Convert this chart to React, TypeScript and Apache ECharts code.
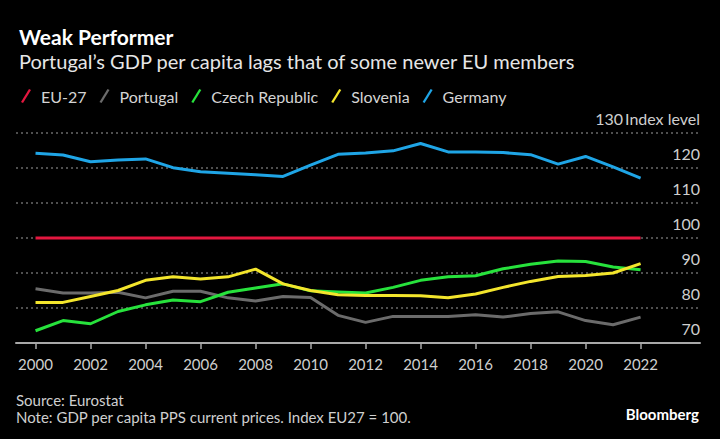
import React, { useEffect, useRef } from "react";
import * as echarts from "echarts";

const years = [2000, 2001, 2002, 2003, 2004, 2005, 2006, 2007, 2008, 2009, 2010, 2011, 2012, 2013, 2014, 2015, 2016, 2017, 2018, 2019, 2020, 2021, 2022];
const eu27 = [100, 100, 100, 100, 100, 100, 100, 100, 100, 100, 100, 100, 100, 100, 100, 100, 100, 100, 100, 100, 100, 100, 100];
const portugal = [85.5, 84.3, 84.3, 84.5, 82.9, 84.8, 84.8, 82.9, 82.0, 83.3, 83.0, 77.9, 75.9, 77.6, 77.6, 77.6, 78.1, 77.4, 78.4, 78.9, 76.4, 75.2, 77.4];
const czech = [73.5, 76.4, 75.5, 79.0, 80.9, 82.3, 81.8, 84.5, 85.7, 86.9, 84.9, 84.6, 84.3, 85.9, 87.9, 88.9, 89.2, 91.2, 92.5, 93.4, 93.3, 91.7, 90.9];
const slovenia = [81.6, 81.6, 83.3, 85.0, 87.9, 88.9, 88.3, 88.9, 91.1, 86.9, 85.0, 83.8, 83.6, 83.6, 83.5, 82.9, 84.0, 85.9, 87.6, 89.0, 89.3, 90.0, 92.7];
const germany = [124.2, 123.7, 121.8, 122.3, 122.6, 120.1, 118.9, 118.5, 118.1, 117.6, 120.8, 123.9, 124.3, 124.9, 127.0, 124.6, 124.6, 124.4, 123.8, 121.1, 123.3, 120.3, 117.1];
const xTickValues = [2000, 2002, 2004, 2006, 2008, 2010, 2012, 2014, 2016, 2018, 2020, 2022];

const seriesNames = ["EU-27", "Portugal", "Czech Republic", "Slovenia", "Germany"];
const seriesData = [eu27, portugal, czech, slovenia, germany];
const seriesColors = ["#e3173f", "#6b6b6b", "#27e23c", "#f3e52c", "#1fa5e6"];

const FONT = "Lato, 'Noto Sans', sans-serif";

export default function App() {
  const ref = useRef<HTMLDivElement>(null);
  useEffect(() => {
    if (!ref.current) return;
    const chart = echarts.init(ref.current, null, { renderer: "svg" });
    const icon = "path://M8,0 L10,1 L2,14 L0,13 Z";
    chart.setOption({
      animation: false,
      backgroundColor: "#000",
      textStyle: { fontFamily: FONT },
      title: {
        text: "Weak Performer",
        subtext: "Portugal\u2019s GDP per capita lags that of some newer EU members",
        left: 14,
        top: 21,
        itemGap: 4,
        textStyle: { color: "#fff", fontSize: 21, fontWeight: "bold", fontFamily: FONT },
        subtextStyle: { color: "#e6e6e6", fontSize: 20, fontFamily: FONT },
      },
      legend: {
        left: 16,
        top: 83,
        itemWidth: 10,
        itemHeight: 14,
        itemGap: 13,
        icon,
        textStyle: { color: "#d4d4d4", fontSize: 16, fontFamily: FONT, padding: [0, 0, 0, 5] },
        data: seriesNames.map((n) => ({ name: n, icon })),
      },
      grid: { left: 16, right: 20, top: 133, bottom: 96, containLabel: false },
      xAxis: {
        type: "value",
        min: 1999.29,
        max: 2024.16,
        axisLine: { show: true, lineStyle: { color: "#a8a8a8", width: 2 } },
        axisTick: { show: true, length: 6, lineStyle: { color: "#a8a8a8", width: 1.5 }, customValues: xTickValues },
        axisLabel: {
          color: "#cfcfcf",
          fontSize: 15,
          margin: 13,
          customValues: xTickValues,
          formatter: (v: number) => String(v),
        },
        splitLine: { show: false },
      },
      yAxis: {
        type: "value",
        position: "right",
        min: 70,
        max: 130,
        interval: 10,
        axisLine: { show: false },
        axisTick: { show: false },
        axisLabel: {
          inside: true,
          margin: 0,
          color: "#cfcfcf",
          fontSize: 16,
          verticalAlign: "bottom",
          padding: [0, 0, 7, 0],
          formatter: (v: number) => (v === 130 ? "130\u2009Index level" : String(v)),
        },
        splitLine: { show: true, lineStyle: { color: "#6a6a6a", type: [2, 3], width: 1.5 } },
      },
      series: seriesNames.map((name, i) => ({
        name,
        type: "line",
        data: years.map((y, j) => [y, seriesData[i][j]]),
        showSymbol: false,
        symbol: "none",
        lineStyle: { color: seriesColors[i], width: 3 },
        itemStyle: { color: seriesColors[i] },
        z: 2 + i,
      })),
      graphic: [
        {
          type: "text",
          left: 16,
          top: 392,
          style: { text: "Source: Eurostat", fill: "#cfcfcf", fontSize: 15, fontFamily: FONT },
        },
        {
          type: "text",
          left: 16,
          top: 409,
          style: { text: "Note: GDP per capita PPS current prices. Index EU27 = 100.", fill: "#cfcfcf", fontSize: 15, fontFamily: FONT },
        },
        {
          type: "text",
          right: 21,
          top: 406,
          style: { text: "Bloomberg", fill: "#fff", fontSize: 15, fontWeight: "bold", fontFamily: FONT },
        },
      ],
    });
    return () => chart.dispose();
  }, []);
  return <div ref={ref} style={{ position: "fixed", left: 0, top: 0, width: 720, height: 439 }} />;
}
